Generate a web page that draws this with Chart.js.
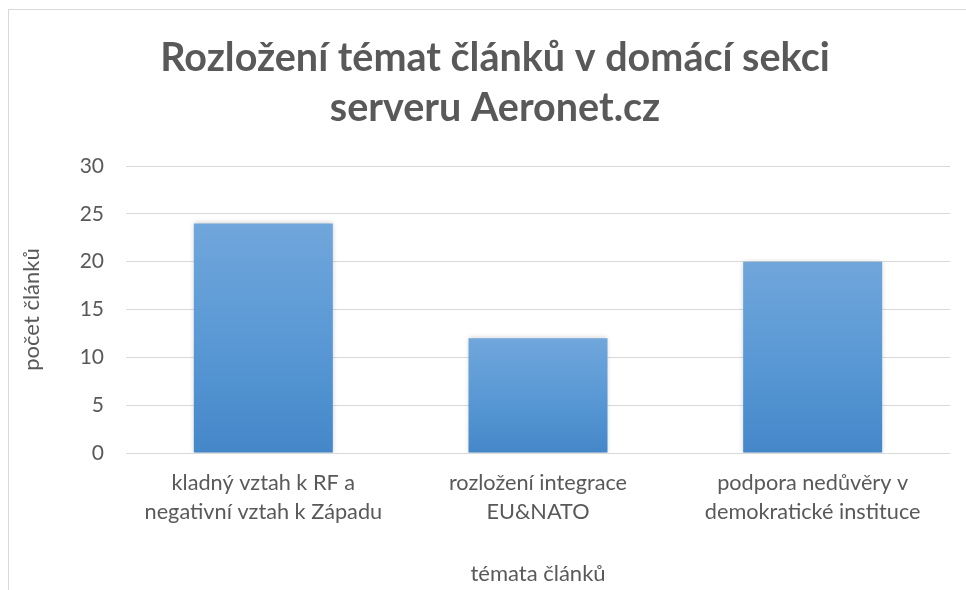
<!DOCTYPE html>
<html>
<head>
<meta charset="utf-8">
<script src="https://cdn.jsdelivr.net/npm/chart.js@4.4.1/dist/chart.umd.min.js"></script>
<style>
    html, body { margin: 0; padding: 0; background: #fff; }
    #obal { position: relative; width: 966px; height: 590px; }
    #ramecek { position: absolute; left: 8px; top: 9px; right: 0; bottom: 0;
        border-left: 1px solid #d9d9d9; border-top: 1px solid #d9d9d9; pointer-events: none; }
</style>
</head>
<body>
<div id="obal">
    <canvas id="graf" width="966" height="590"></canvas>
    <div id="ramecek"></div>
</div>
<script>
// data grafu
var kategorie = [
    ['kladný vztah k RF a', 'negativní vztah k Západu'],
    ['rozložení integrace', 'EU&NATO'],
    ['podpora nedůvěry v', 'demokratické instituce']
]
var pocetClanku = [24, 12, 20]
var osaY = { min: 0, max: 30, krok: 5 }

var seda = '#595959'
var pismo = 'Lato, Carlito, "Open Sans", sans-serif'

// prechod v kazdem sloupci (svetlejsi nahore)
function barvaSloupce(c) {
    var chart = c.chart
    if (!chart.chartArea) return '#5b9bd5'
    var y = chart.scales.y
    var horni = y.getPixelForValue(c.raw)
    var dolni = y.getPixelForValue(0)
    var g = chart.ctx.createLinearGradient(0, horni, 0, dolni)
    g.addColorStop(0, '#70a6db')
    g.addColorStop(0.5, '#5a99d5')
    g.addColorStop(1, '#4487c9')
    return g
}

var stin = {
    id: 'stin',
    beforeDatasetsDraw(chart) {
        var ctx = chart.ctx
        ctx.save()
        ctx.shadowColor = 'rgba(0,0,0,0.22)'
        ctx.shadowBlur = 5
        ctx.shadowOffsetX = 0
        ctx.shadowOffsetY = 0
    },
    afterDatasetsDraw(chart) {
        chart.ctx.restore()
    }
}

// nadpis je v originale posunuty trochu doprava
var posunNadpisu = {
    id: 'posunNadpisu',
    afterLayout(chart) {
        if (chart.titleBlock) {
            chart.titleBlock.left += 26
        }
    }
}

var ctx = document.getElementById('graf');
createGraf(ctx)

function createGraf(ctx) {

    grafClanky = new Chart(ctx, {
        type: 'bar',
        data: {
            labels: kategorie,
            datasets: [{
                label: 'počet článků',
                data: pocetClanku,
                backgroundColor: barvaSloupce,
                borderWidth: 0,
                categoryPercentage: 1,
                barPercentage: 0.506
            }]
        },
        options: {
            responsive: false,
            animation: false,
            layout: {
                padding: { left: 14, right: 16, top: 0, bottom: 0 }
            },
            plugins: {
                legend: { display: false },
                tooltip: { enabled: false },
                title: {
                    display: true,
                    text: ['Rozložení témat článků v domácí sekci', 'serveru Aeronet.cz'],
                    color: seda,
                    font: { family: pismo, size: 39.5, weight: 'bold', lineHeight: 1.266 },
                    padding: { top: 33, bottom: 33 }
                }
            },
            scales: {
                x: {
                    grid: { display: false, drawTicks: false },
                    border: { display: false },
                    ticks: {
                        color: seda,
                        font: { family: pismo, size: 21.7, lineHeight: 1.33 },
                        padding: 16,
                        maxRotation: 0,
                        autoSkip: false
                    },
                    title: {
                        display: true,
                        text: 'témata článků',
                        color: seda,
                        font: { family: pismo, size: 22 },
                        padding: { top: 4, bottom: 3 }
                    },
                    afterFit: function (scale) { scale.height = 137 }
                },
                y: {
                    min: osaY.min,
                    max: osaY.max,
                    ticks: {
                        stepSize: osaY.krok,
                        color: seda,
                        font: { family: pismo, size: 21 },
                        padding: 22
                    },
                    grid: { color: '#d9d9d9', lineWidth: 1, drawTicks: false },
                    border: { display: false },
                    title: {
                        display: true,
                        text: 'počet článků',
                        color: seda,
                        font: { family: pismo, size: 22 },
                        padding: { top: 5, bottom: 0 }
                    },
                    afterFit: function (scale) { scale.width = 112 }
                }
            }
        },
        plugins: [stin, posunNadpisu]
    });
}
</script>
</body>
</html>
